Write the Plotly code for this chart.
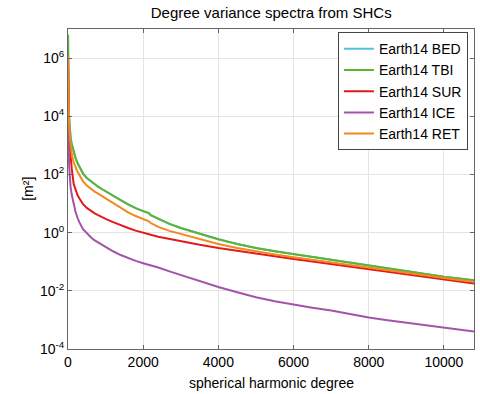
import plotly.graph_objects as go

degree = [1, 2, 5, 10, 20, 30, 50, 70, 100, 150, 200, 250, 300, 400, 500, 600, 700,
          800, 900, 1000, 1200, 1400, 1600, 1800, 2000, 2150, 2200, 2400, 2700, 3000,
          3500, 4000, 4500, 5000, 5500, 6000, 6500, 7000, 7500, 8000, 8500, 9000,
          9500, 10000, 10400, 10800]

# log10 of degree variance [m^2]
log_tbi = [6.8, 6.3, 5.5, 4.9, 4.3, 3.95, 3.5, 3.25, 3.05, 2.78, 2.57, 2.4, 2.26, 2.03,
           1.88, 1.77, 1.67, 1.58, 1.5, 1.43, 1.28, 1.12, 0.97, 0.84, 0.74, 0.67, 0.6,
           0.47, 0.3, 0.16, -0.04, -0.23, -0.39, -0.53, -0.64, -0.74, -0.84, -0.94,
           -1.04, -1.14, -1.24, -1.33, -1.43, -1.52, -1.58, -1.64]
log_bed = [6.8, 6.3, 5.5, 4.9, 4.3, 3.95, 3.5, 3.25, 3.05, 2.78, 2.57, 2.4, 2.26, 2.03,
           1.88, 1.77, 1.67, 1.58, 1.5, 1.43, 1.28, 1.12, 0.97, 0.84, 0.74, 0.67, 0.6,
           0.47, 0.3, 0.16, -0.04, -0.23, -0.39, -0.53, -0.64, -0.74, -0.84, -0.94,
           -1.04, -1.14, -1.24, -1.33, -1.43, -1.52, -1.58, -1.64]
log_sur = [6.0, 5.8, 5.1, 4.4, 3.7, 3.3, 2.9, 2.55, 2.2, 1.68, 1.45, 1.3, 1.18, 0.98,
           0.85, 0.75, 0.67, 0.6, 0.53, 0.47, 0.36, 0.25, 0.16, 0.07, -0.01, -0.05,
           -0.07, -0.14, -0.22, -0.3, -0.42, -0.53, -0.63, -0.72, -0.82, -0.91, -0.99,
           -1.08, -1.16, -1.25, -1.34, -1.44, -1.53, -1.63, -1.69, -1.75]
log_ice = [5.0, 4.6, 3.9, 3.4, 2.8, 2.3, 1.8, 1.55, 1.3, 0.98, 0.72, 0.52, 0.36, 0.12,
           -0.02, -0.15, -0.26, -0.34, -0.42, -0.5, -0.64, -0.77, -0.88, -0.97, -1.05,
           -1.1, -1.12, -1.2, -1.33, -1.46, -1.67, -1.87, -2.05, -2.22, -2.36, -2.48,
           -2.58, -2.68, -2.8, -2.92, -3.01, -3.1, -3.18, -3.26, -3.33, -3.4]
log_ret = [6.05, 5.9, 5.3, 4.7, 4.1, 3.75, 3.3, 2.95, 2.7, 2.42, 2.24, 2.1, 1.99, 1.76,
           1.62, 1.51, 1.42, 1.34, 1.26, 1.18, 1.0, 0.84, 0.7, 0.57, 0.46, 0.39, 0.33,
           0.2, 0.06, -0.05, -0.22, -0.39, -0.53, -0.65, -0.75, -0.85, -0.94, -1.03,
           -1.12, -1.21, -1.3, -1.39, -1.49, -1.58, -1.63, -1.69]

series_names = ["Earth14 BED", "Earth14 TBI", "Earth14 SUR", "Earth14 ICE", "Earth14 RET"]
series_logs = [log_bed, log_tbi, log_sur, log_ice, log_ret]
series_colors = ["#56c1dc", "#5cb334", "#e41a1a", "#a453a9", "#f5871f"]

ytick_exp = [-4, -2, 0, 2, 4, 6]
xtick_vals = [0, 2000, 4000, 6000, 8000, 10000]

FONT = "Liberation Sans, Arial, sans-serif"

fig = go.Figure()
for name, logs, col in zip(series_names, series_logs, series_colors):
    fig.add_trace(go.Scatter(
        x=degree, y=[10 ** v for v in logs], mode="lines", name=name,
        line=dict(color=col, width=2)))

fig.update_layout(
    width=480, height=394,
    margin=dict(l=68, r=6, t=29, b=45, autoexpand=False),
    paper_bgcolor="white", plot_bgcolor="white",
    font=dict(family=FONT, size=14, color="black"),
    title=dict(text="Degree variance spectra from SHCs", x=0.565, xanchor="center",
               xref="container", y=0.967, yanchor="middle", yref="container",
               font=dict(size=15, family=FONT)),
    showlegend=True,
    legend=dict(x=0.985, xanchor="right", y=0.99, yanchor="top",
                bgcolor="white", bordercolor="#444", borderwidth=1,
                font=dict(size=14, family=FONT), tracegroupgap=0),
    annotations=[
        dict(text="spherical harmonic degree", xref="paper", yref="paper",
             x=0.5, y=-0.105, xanchor="center", yanchor="middle", showarrow=False,
             font=dict(size=14, family=FONT)),
        dict(text="[m²]", xref="paper", yref="paper", textangle=-90,
             x=-0.099, y=0.5, xanchor="center", yanchor="middle", showarrow=False,
             font=dict(size=14, family=FONT)),
    ],
)
fig.update_xaxes(
    range=[0, 10800], tickvals=xtick_vals, ticktext=[str(v) for v in xtick_vals],
    showgrid=True, gridcolor="#e4e4e4", gridwidth=1,
    showline=True, linecolor="#666", linewidth=1, mirror="ticks",
    ticks="inside", ticklen=4, tickcolor="#666",
    zeroline=False, automargin=False,
    tickfont=dict(size=14),
)
fig.update_yaxes(
    type="log", range=[-4, 7],
    tickvals=[10 ** e for e in ytick_exp],
    ticktext=["10<sup>%d</sup>" % e for e in ytick_exp],
    showgrid=True, gridcolor="#e4e4e4", gridwidth=1,
    showline=True, linecolor="#666", linewidth=1, mirror="ticks",
    ticks="inside", ticklen=4, tickcolor="#666",
    zeroline=False, automargin=False,
    tickfont=dict(size=14),
)

fig.write_html("out.html", config={"displayModeBar": False},
               post_script="document.body.style.margin='0';")
